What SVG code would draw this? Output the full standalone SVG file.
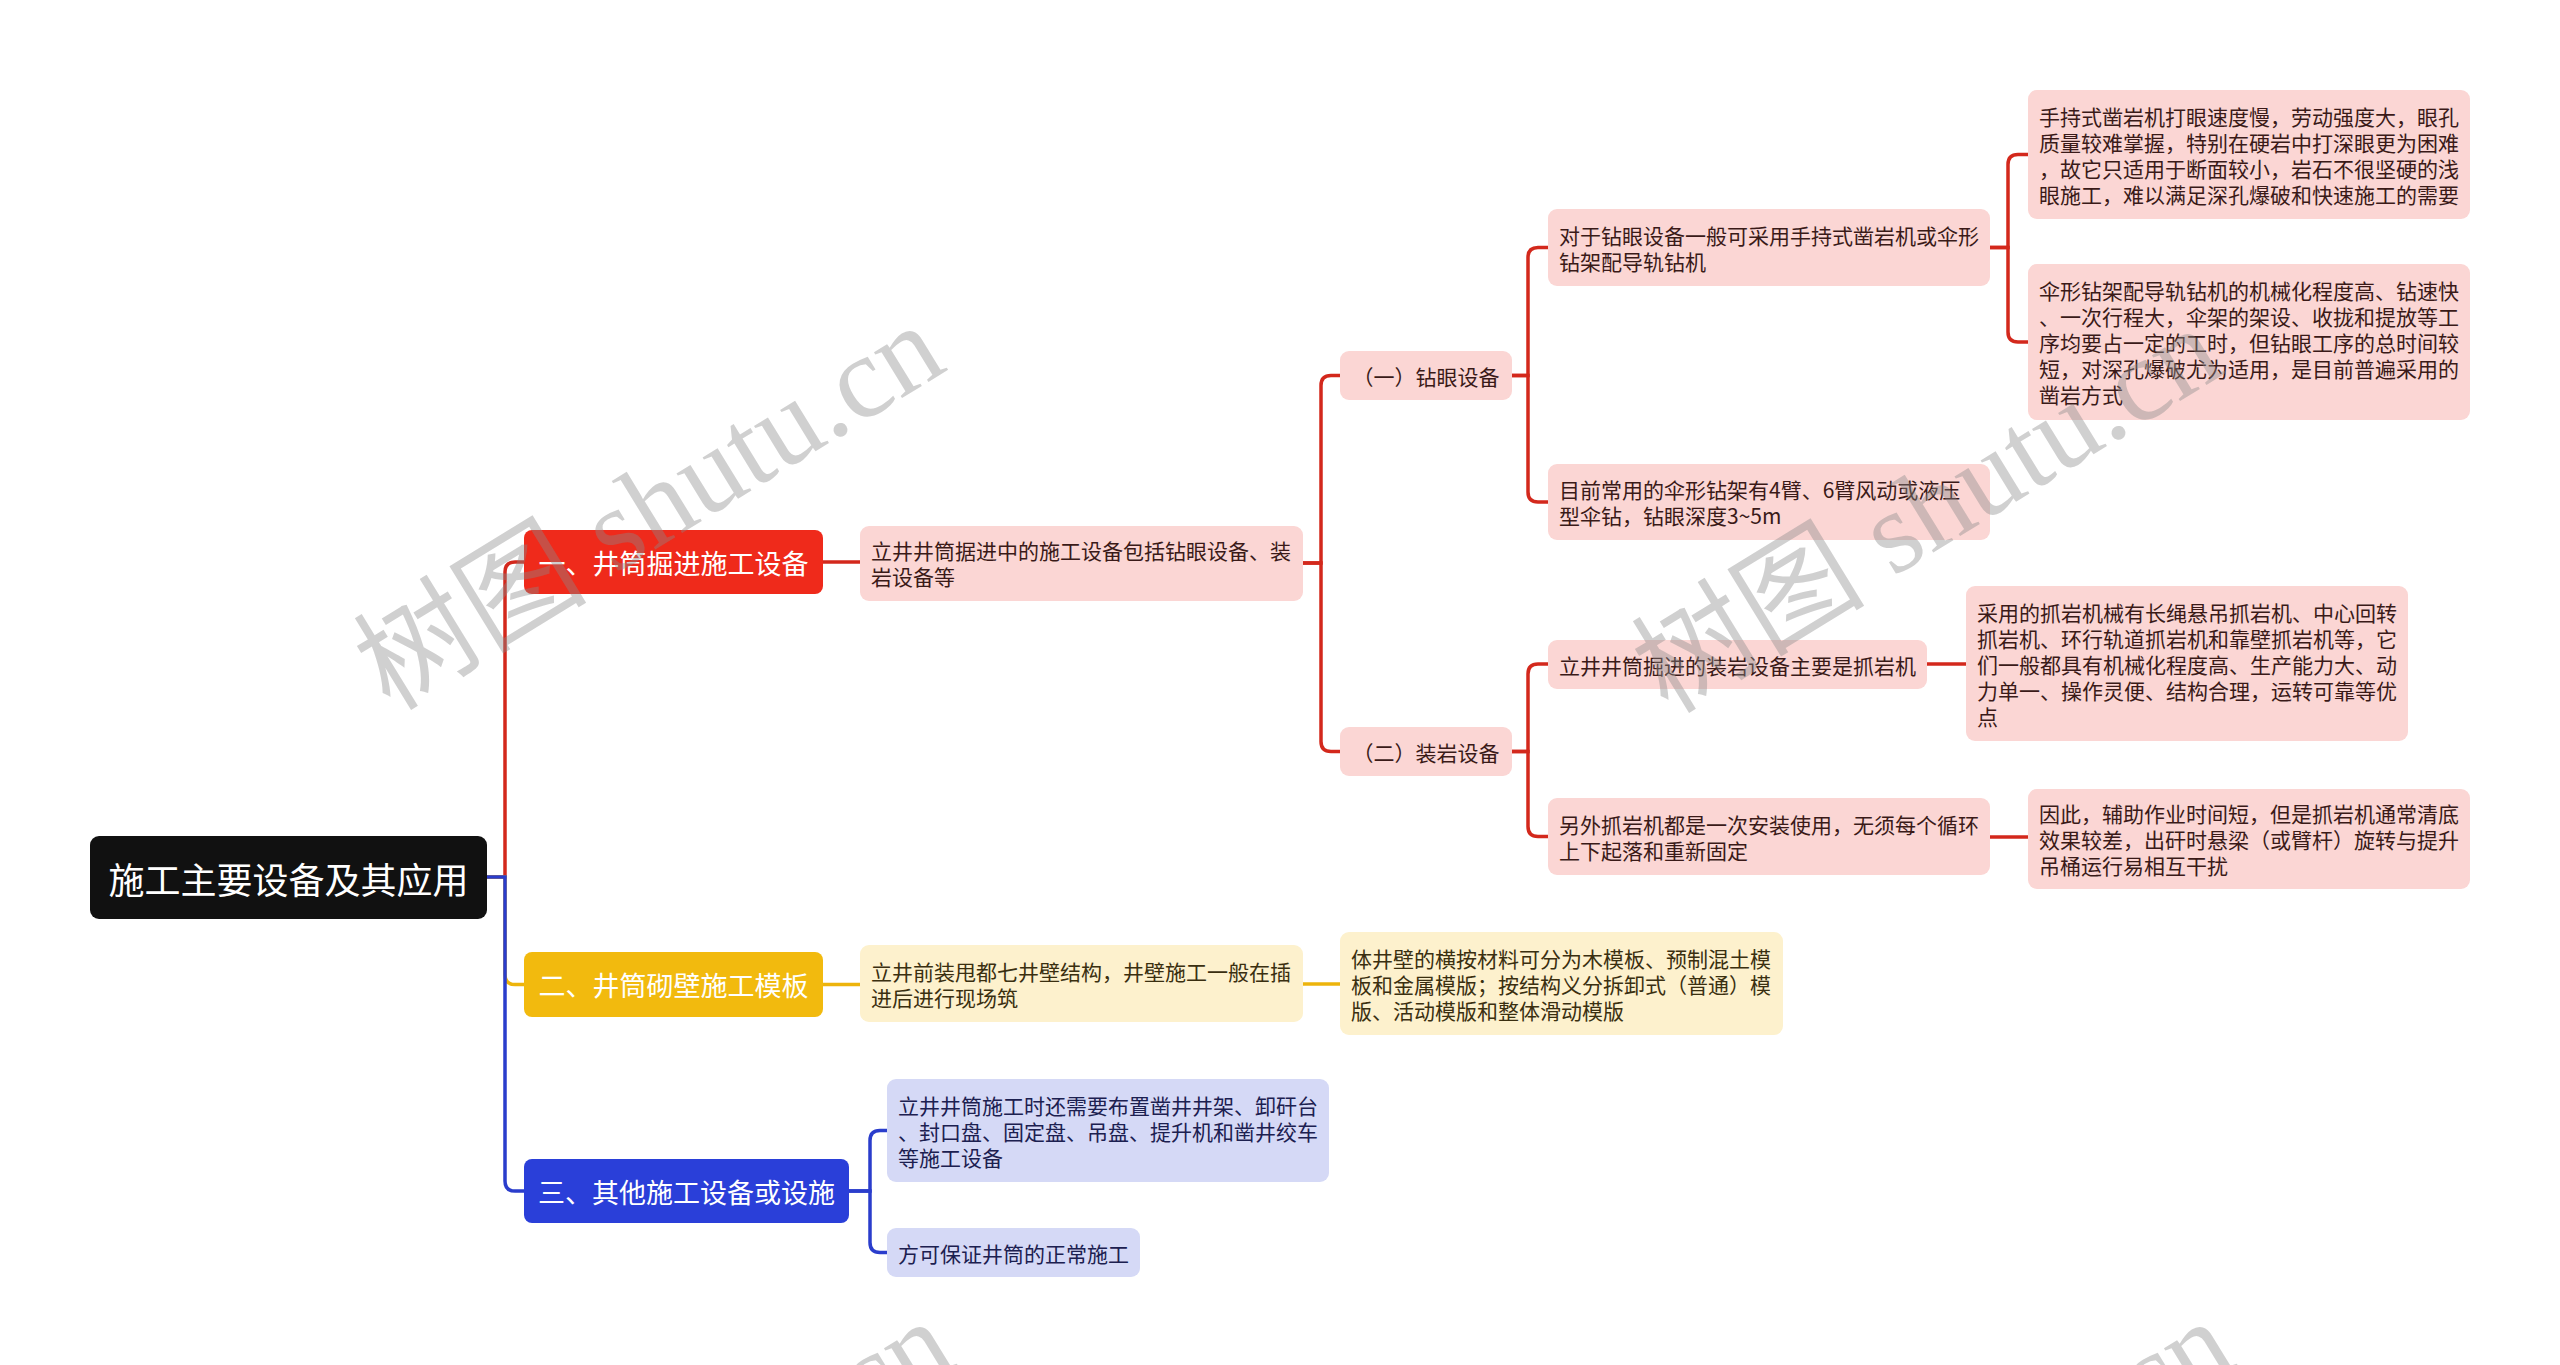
<svg xmlns="http://www.w3.org/2000/svg" width="2560" height="1365" viewBox="0 0 2560 1365">
<style>
text{font-family:"Noto Sans CJK SC","Noto Sans",sans-serif;dominant-baseline:central}
.root{fill:#111111}
.rt{fill:#ffffff;font-size:36px;text-anchor:middle}
.l1t{fill:#ffffff;font-size:27px;text-anchor:middle}
.red{fill:#EF2A1B}
.yel{fill:#F2BA0E}
.blu{fill:#2A3FD9}
.pk{fill:#FBD6D4}
.ly{fill:#FDF1CD}
.lb{fill:#D5D9F6}
.t{font-size:21px}
.tp{fill:#3A1A18}
.ty{fill:#3A2F10}
.tb{fill:#1C2050}
.cr{fill:none;stroke:#D3281C;stroke-width:3.5}
.cy{fill:none;stroke:#EDB40C;stroke-width:3.5}
.cb{fill:none;stroke:#2A3DCC;stroke-width:3.5}
.wm{font-family:"Liberation Serif","Noto Sans CJK SC",serif;font-size:117px;fill:#8a8a8a;fill-opacity:0.4;dominant-baseline:auto}
</style>
<g id="connectors">
<path class="cr" d="M487 877 H505 V572 Q505 562 515 562 H524"/>
<path class="cy" d="M487 877 H505 V974.5 Q505 984.5 515 984.5 H524"/>
<path class="cb" d="M487 877 H505 V1181 Q505 1191 515 1191 H524"/>
<path class="cr" d="M823 562 H860"/>
<path class="cr" d="M1303 563 H1321 V385.5 Q1321 375.5 1331 375.5 H1340"/>
<path class="cr" d="M1303 563 H1321 V741.5 Q1321 751.5 1331 751.5 H1340"/>
<path class="cr" d="M1512 375.5 H1528 V257.5 Q1528 247.5 1538 247.5 H1548"/>
<path class="cr" d="M1512 375.5 H1528 V492 Q1528 502 1538 502 H1548"/>
<path class="cr" d="M1990 247.5 H2008 V164.5 Q2008 154.5 2018 154.5 H2028"/>
<path class="cr" d="M1990 247.5 H2008 V332 Q2008 342 2018 342 H2028"/>
<path class="cr" d="M1512 751.5 H1528 V674 Q1528 664 1538 664 H1548"/>
<path class="cr" d="M1512 751.5 H1528 V826.5 Q1528 836.5 1538 836.5 H1548"/>
<path class="cr" d="M1927 664 H1966"/>
<path class="cr" d="M1990 837 H2028"/>
<path class="cy" d="M823 984.5 H860"/>
<path class="cy" d="M1303 984 H1340"/>
<path class="cb" d="M849 1191 H870 V1140.5 Q870 1130.5 880 1130.5 H887"/>
<path class="cb" d="M849 1191 H870 V1242.5 Q870 1252.5 880 1252.5 H887"/>
</g>
<g id="root"><rect class="root" x="90" y="836" width="397" height="83" rx="9"/><text class="rt" x="288.5" y="877.5">施工主要设备及其应用</text></g>
<g id="n1"><rect class="red" x="524" y="530" width="299" height="64" rx="8"/><text class="l1t" x="673.5" y="562">一、井筒掘进施工设备</text></g>
<g id="n2"><rect class="yel" x="524" y="952" width="299" height="65" rx="8"/><text class="l1t" x="673.5" y="984.5">二、井筒砌壁施工模板</text></g>
<g id="n3"><rect class="blu" x="524" y="1159" width="325" height="64" rx="8"/><text class="l1t" x="686.5" y="1191">三、其他施工设备或设施</text></g>
<g id="n1a"><rect class="pk" x="860" y="526" width="443" height="75" rx="9"/><text class="t tp" x="871" y="550">立井井筒据进中的施工设备包括钻眼设备、装</text><text class="t tp" x="871" y="576">岩设备等</text></g>
<g id="n1a1"><rect class="pk" x="1340" y="351" width="172" height="49" rx="9"/><text class="t tp" x="1426" y="375.5" text-anchor="middle">（一）钻眼设备</text></g>
<g id="n1a2"><rect class="pk" x="1340" y="727" width="172" height="49" rx="9"/><text class="t tp" x="1426" y="751.5" text-anchor="middle">（二）装岩设备</text></g>
<g id="n1a1a"><rect class="pk" x="1548" y="209" width="442" height="77" rx="9"/><text class="t tp" x="1559" y="234.5">对于钻眼设备一般可采用手持式凿岩机或伞形</text><text class="t tp" x="1559" y="260.5">钻架配导轨钻机</text></g>
<g id="n1a1b"><rect class="pk" x="1548" y="464" width="442" height="76" rx="9"/><text class="t tp" x="1559" y="489">目前常用的伞形钻架有4臂、6臂风动或液压</text><text class="t tp" x="1559" y="515">型伞钻，钻眼深度3~5m</text></g>
<g id="n1a1a1"><rect class="pk" x="2028" y="90" width="442" height="129" rx="9"/><text class="t tp" x="2039" y="115.5">手持式凿岩机打眼速度慢，劳动强度大，眼孔</text><text class="t tp" x="2039" y="141.5">质量较难掌握，特别在硬岩中打深眼更为困难</text><text class="t tp" x="2039" y="167.5">，故它只适用于断面较小，岩石不很坚硬的浅</text><text class="t tp" x="2039" y="193.5">眼施工，难以满足深孔爆破和快速施工的需要</text></g>
<g id="n1a1a2"><rect class="pk" x="2028" y="264" width="442" height="156" rx="9"/><text class="t tp" x="2039" y="290">伞形钻架配导轨钻机的机械化程度高、钻速快</text><text class="t tp" x="2039" y="316">、一次行程大，伞架的架设、收拢和提放等工</text><text class="t tp" x="2039" y="342">序均要占一定的工时，但钻眼工序的总时间较</text><text class="t tp" x="2039" y="368">短，对深孔爆破尤为适用，是目前普遍采用的</text><text class="t tp" x="2039" y="394">凿岩方式</text></g>
<g id="n1a2a"><rect class="pk" x="1548" y="640" width="379" height="49" rx="9"/><text class="t tp" x="1559" y="664.5">立井井筒掘进的装岩设备主要是抓岩机</text></g>
<g id="n1a2a1"><rect class="pk" x="1966" y="586" width="442" height="155" rx="9"/><text class="t tp" x="1977" y="611.5">采用的抓岩机械有长绳悬吊抓岩机、中心回转</text><text class="t tp" x="1977" y="637.5">抓岩机、环行轨道抓岩机和靠壁抓岩机等，它</text><text class="t tp" x="1977" y="663.5">们一般都具有机械化程度高、生产能力大、动</text><text class="t tp" x="1977" y="689.5">力单一、操作灵便、结构合理，运转可靠等优</text><text class="t tp" x="1977" y="715.5">点</text></g>
<g id="n1a2b"><rect class="pk" x="1548" y="798" width="442" height="77" rx="9"/><text class="t tp" x="1559" y="823.5">另外抓岩机都是一次安装使用，无须每个循环</text><text class="t tp" x="1559" y="849.5">上下起落和重新固定</text></g>
<g id="n1a2b1"><rect class="pk" x="2028" y="789" width="442" height="100" rx="9"/><text class="t tp" x="2039" y="813">因此，辅助作业时间短，但是抓岩机通常清底</text><text class="t tp" x="2039" y="839">效果较差，出矸时悬梁（或臂杆）旋转与提升</text><text class="t tp" x="2039" y="865">吊桶运行易相互干扰</text></g>
<g id="n2a"><rect class="ly" x="860" y="945" width="443" height="77" rx="9"/><text class="t ty" x="871" y="970.5">立井前装甩都七井壁结构，井壁施工一般在插</text><text class="t ty" x="871" y="996.5">进后进行现场筑</text></g>
<g id="n2a1"><rect class="ly" x="1340" y="932" width="443" height="103" rx="9"/><text class="t ty" x="1351" y="957.5">体井壁的横按材料可分为木模板、预制混土模</text><text class="t ty" x="1351" y="983.5">板和金属模版；按结构义分拆卸式（普通）模</text><text class="t ty" x="1351" y="1009.5">版、活动模版和整体滑动模版</text></g>
<g id="n3a"><rect class="lb" x="887" y="1079" width="442" height="103" rx="9"/><text class="t tb" x="898" y="1104.5">立井井筒施工时还需要布置凿井井架、卸矸台</text><text class="t tb" x="898" y="1130.5">、封口盘、固定盘、吊盘、提升机和凿井绞车</text><text class="t tb" x="898" y="1156.5">等施工设备</text></g>
<g id="n3b"><rect class="lb" x="887" y="1228" width="253" height="49" rx="9"/><text class="t tb" x="898" y="1252.5">方可保证井筒的正常施工</text></g>
<g id="watermark">
<text class="wm" transform="translate(390,712) rotate(-31.5)">树图 shutu.cn</text>
<text class="wm" transform="translate(1668,715) rotate(-31.5)">树图 shutu.cn</text>
<text class="wm" transform="translate(400,1708) rotate(-31.5)">树图 shutu.cn</text>
<text class="wm" transform="translate(1680,1708) rotate(-31.5)">树图 shutu.cn</text>
</g>
</svg>
